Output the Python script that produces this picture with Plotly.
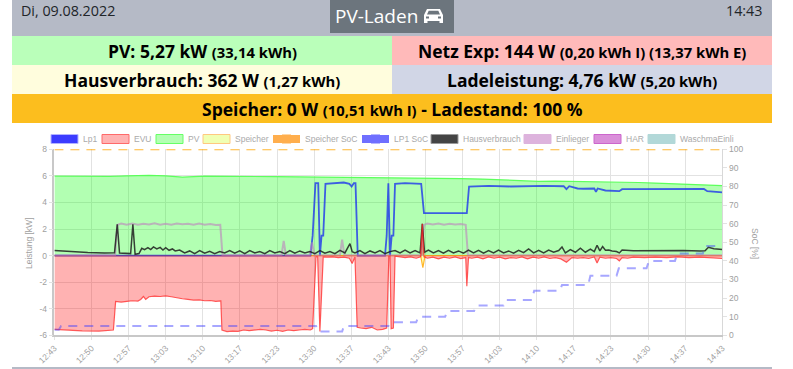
import plotly.graph_objects as go

W, H = 793, 369
TICK_LABELS = ["12:43","12:50","12:57","13:03","13:10","13:17","13:23","13:30","13:37","13:43",
               "13:50","13:57","14:03","14:10","14:17","14:23","14:30","14:37","14:43"]
TICK_MINUTES = [i * 120 / 18 for i in range(19)]

pv_t = [0,3,6,10,13,17,20,23,27,30,33,37,40,44,47,50,53,57,60,63,66,70,73,77,80,84,87,90,93,96,99,102,105,108,111,114,117,120]
pv_kw = [5.98,5.97,5.99,5.96,6.0,6.04,6.0,5.91,5.98,5.96,5.95,5.96,5.94,5.93,5.92,5.9,5.9,5.88,5.86,5.87,5.83,5.82,5.8,5.76,5.7,5.62,5.58,5.6,5.58,5.6,5.55,5.55,5.5,5.46,5.42,5.4,5.32,5.27]

evu_t = [0,2,5,8,10.6,11,12,13,14,15,15.5,16,16.4,17,18,19,20,21,22,23,24,25,26,27,28,29,29.9,30.1,31,32,33,34,35,36,37,38,39,40,41,42,43,44,45,46,46.4,47,47.3,47.7,48.3,49,50,51,52,53,53.5,54,54.4,55,56,57,58,59,59.7,60.1,60.3,60.5,60.9,61.2,62,63,64,65,65.8,66.1,66.4,67,68,69,70,71,72,73,73.9,74.1,74.4,75,76,77,78,79,80,81,82,83,84,85,86,87,88,89,90,91,92,93,94,95,96,97,97.5,98,99,100,101,101.5,102,103,104,106,108,110,112,114,116,117,118,119,120]
evu_kw = [-5.55,-5.6,-5.66,-5.68,-5.6,-3.45,-3.5,-3.45,-3.4,-3.42,-3.3,-3.08,-3.3,-3.1,-3.05,-3.08,-3.03,-3.1,-3.2,-3.25,-3.3,-3.35,-3.33,-3.4,-3.38,-3.45,-3.42,-5.6,-5.72,-5.68,-5.7,-5.6,-5.65,-5.58,-5.55,-5.6,-5.68,-5.62,-5.7,-5.6,-5.65,-5.6,-5.55,-5.6,-5.5,-0.1,-0.1,-5.72,-0.1,-0.12,-0.1,-0.15,-0.12,-0.2,-0.6,-0.1,-5.4,-5.45,-5.5,-5.4,-5.6,-5.55,-5.45,-0.05,-0.05,-5.5,-5.45,-0.05,-0.1,-0.15,-0.1,-0.2,-0.1,2.4,-0.1,-0.2,-0.12,-0.25,-0.12,-0.2,-0.1,-0.22,-0.15,-2.3,-0.15,-0.2,-0.12,-0.25,-0.1,-0.2,-0.12,-0.25,-0.15,-0.2,-0.1,-0.25,-0.12,-0.2,-0.1,-0.22,-0.15,-0.25,-0.5,-0.15,-0.2,-0.15,-0.22,-0.1,-0.55,-0.12,-0.2,-0.15,-0.22,-0.4,-0.15,-0.2,-0.12,-0.15,-0.12,-0.15,-0.1,-0.15,-0.12,-0.15,-0.15,-0.2,-0.22,-0.14]

lp1_t = [0,46,46.4,46.9,47.4,47.7,48.0,48.3,48.7,50,52,53,53.4,53.8,54.1,54.5,59.4,59.7,60.0,60.3,60.6,60.9,61.2,63,65.9,66.4,70,74.1,74.5,78,82,88,91.5,92,92.5,94,95,97,97.3,97.6,99,101.5,102,106,110,114,116.7,117.3,120]
lp1_kw = [0,0,1.5,5.45,5.45,0,1.5,1.5,5.4,5.45,5.5,5.4,5.2,5.45,5.45,0,0,1.5,5.45,0,1.5,1.5,5.4,5.45,5.4,3.2,3.22,3.2,5.2,5.25,5.2,5.25,5.22,5.0,5.22,5.05,5.03,5.05,4.8,5.05,4.9,4.85,5.0,5.0,5.03,5.0,5.02,4.85,4.76]

lp1soc_t = [0,0.8,1.2,47,47.4,51.7,52,60,60.3,65,65.4,70.2,70.6,75.4,75.8,80.7,81.1,85.8,86.2,90.8,91.2,95.9,96.3,101,101.4,106.4,106.8,111.5,111.9,116.5,116.9,120]
lp1soc_pct = [3,3,5,5,2,2,5,5,7,7,10,10,13,13,16,16,19,19,24,24,27,27,32,32,36,36,40,40,44,44,48,48]

speicher_t = [0,65.8,66.2,66.6,90,96,120]
speicher_kw = [0,0,-0.9,0,0,0,0]
speichersoc_t = [0,120]
speichersoc_pct = [100,100]

haus_t = [0,3,6,9,10.8,11.3,11.7,13.7,14.1,14.5,15.2,15.7,16.2,16.8,17.3,17.8,18.4,19,19.5,20,20.6,21.2,21.7,22.5,23.4,24.3,25.2,26.1,27,27.9,28.8,29.7,30.6,31.5,32.4,33.3,34.2,35.1,36,36.9,37.8,38.7,39.6,40.5,41.4,42.3,43.2,44.1,45,45.9,46.8,47.7,48.6,49.5,50.4,51.3,52.2,53.1,53.5,54,54.9,55.8,56.7,57.6,58.5,59.4,60.3,61.2,62.1,63,63.9,64.8,65.7,66.1,66.5,67.2,68.1,69,69.9,70.8,71.7,72.6,73.5,74.4,75.3,76.2,77.1,78,78.9,79.8,80.7,81.6,82.5,83.4,84.3,85.2,86.1,87,87.9,88.8,89.7,90.6,91.2,91.8,92.7,93.6,94.5,95.4,96.3,97,97.5,98,98.5,99,99.6,100.2,101,101.5,102,104,107,110,113,116,116.9,117.5,118.5,120]
haus_kw = [0.38,0.3,0.24,0.2,0.22,2.35,0.2,0.15,2.35,0.1,0.15,0.55,0.45,0.6,0.45,0.65,0.5,0.62,0.42,0.6,0.4,0.5,0.35,0.42,0.2,0.35,0.15,0.38,0.18,0.32,0.15,0.3,0.2,0.38,0.18,0.35,0.15,0.38,0.2,0.3,0.15,0.38,0.2,0.3,0.15,0.38,0.18,0.35,0.2,0.3,0.15,0.38,0.18,0.3,0.15,0.4,0.2,0.9,0.3,0.2,0.38,0.15,0.35,0.2,0.38,0.15,0.3,0.38,0.2,0.42,0.2,0.38,0.2,2.4,0.25,0.42,0.2,0.38,0.18,0.4,0.2,0.35,0.18,0.42,0.2,0.4,0.18,0.38,0.2,0.42,0.2,0.35,0.18,0.4,0.22,0.5,0.2,0.4,0.2,0.42,0.25,0.38,0.65,0.2,0.45,0.25,0.55,0.25,0.48,0.3,0.78,0.35,0.68,0.4,0.42,0.35,0.3,0.2,0.42,0.36,0.38,0.36,0.38,0.34,0.36,0.62,0.52,0.45,0.36]

einl_t = [0,10.9,11.3,12,13,14,15,16,17,18,19,20,21,22,23,24,25,26,27,28,29,29.8,30.2,40.8,41.2,41.6,45.9,46.3,46.7,51.3,51.7,52.1,65.9,66.4,67,68,69,70,71,72,73,73.9,74.3,120]
einl_kw = [0.02,0.02,2.3,2.42,2.33,2.42,2.32,2.4,2.34,2.43,2.33,2.4,2.32,2.42,2.35,2.4,2.33,2.42,2.32,2.38,2.3,2.32,0.02,0.02,1.1,0.02,0.02,1.0,0.02,0.02,1.2,0.02,0.02,2.3,2.42,2.34,2.42,2.33,2.4,2.34,2.38,2.32,0.02,0.02]

legend_labels = ["Lp1","EVU","PV","Speicher","Speicher SoC","LP1 SoC","Hausverbrauch","Einlieger","HAR","WaschmaEinli"]
legend_fill = ["#3c3cff","#ffb3b3","#b3ffb3","#f0ffb3","#ffae4d","#6f6fff","#444444","#ddb3dd","#da8fda","#b2d8d8"]
legend_edge = ["#b3b3ff","#ff6a6a","#66ff66","#ffc880","#ffffff","#ffffff","#999999","#ddb3dd","#cc66cc","#b2d8d8"]
legend_box_x = [51,102,156,203,273,362,431,524,594,648]

TXT = "#a0a0a0"
AX = dict(family="Liberation Sans, Arial, sans-serif", size=8.5, color=TXT)
UI = "Open Sans, Noto Sans, sans-serif"

def px(x): return x / W
def py(y): return 1 - y / H

def rect(x0, y0, x1, y1, fill, line=None, lw=0, dash=None):
    return dict(type="rect", xref="paper", yref="paper", x0=px(x0), x1=px(x1), y0=py(y1), y1=py(y0),
                fillcolor=fill, line=dict(color=line or fill, width=lw, dash=dash or "solid"), layer="above")

def text(x, y, s, size, color="#000000", anchor="center", family=UI, angle=0):
    return dict(xref="paper", yref="paper", x=px(x), y=py(y), text=s, showarrow=False, xanchor=anchor, yanchor="middle",
                font=dict(family=family, size=size, color=color), align="center", textangle=angle)

def big(a, b=""):
    return f"<b>{a}</b>" + (f' <b><span style="font-size:14.8px">{b}</span></b>' if b else "")

def poly(points, fill):
    d = "M " + " L ".join(f"{px(a):.5f},{py(b):.5f}" for a, b in points) + " Z"
    return dict(type="path", xref="paper", yref="paper", path=d, fillcolor=fill, line=dict(width=0), layer="above")

BTN = "#6c757d"
shapes = [
    rect(12, 0, 772, 36, "#b5bac6"),
    rect(12, 36, 392, 65, "#baffba"),
    rect(392, 36, 772, 65, "#ffbaba"),
    rect(12, 65, 392, 94, "#fffddd"),
    rect(392, 65, 772, 94, "#d1d6e6"),
    rect(12, 94, 772, 123, "#fcbe1e"),
    rect(12, 367, 772, 369, "#b5bac6"),
    rect(330, 0, 454, 33, BTN),
    poly([(424,15),(427,9),(440,9),(443,15),(443,23),(439.5,23),(439.5,21),(427.5,21),(427.5,23),(424,23)], "#ffffff"),
    poly([(427,14.5),(428.7,10.8),(438.3,10.8),(440,14.5)], BTN),
    rect(426, 16.5, 429, 18.5, BTN),
    rect(438, 16.5, 441, 18.5, BTN),
]
annotations = [
    text(19, 10, "Di, 09.08.2022", 14.3, "#212529", "left"),
    text(764, 10, "14:43", 14.3, "#212529", "right"),
    text(376, 16, "PV-Laden", 19, "#ffffff"),
    text(202, 51, big("PV: 5,27 kW", "(33,14 kWh)"), 17.5),
    text(582, 51, big("Netz Exp: 144 W", "(0,20 kWh I) (13,37 kWh E)"), 17.5),
    text(202, 80, big("Hausverbrauch: 362 W", "(1,27 kWh)"), 17.5),
    text(582, 80, big("Ladeleistung: 4,76 kW", "(5,20 kWh)"), 17.5),
    text(392, 109, big("Speicher: 0 W", "(10,51 kWh I)") + " <b>- Ladestand: 100 %</b>", 17.5),
    text(29, 243, "Leistung [kW]", 8.5, TXT, "center", AX["family"], -90),
    text(755, 243, "SoC [%]", 8.5, TXT, "center", AX["family"], 90),
]
for label, fill, edge, x in zip(legend_labels, legend_fill, legend_edge, legend_box_x):
    dashed = label.endswith("SoC")
    shapes.append(rect(x, 134.5, x + 27, 143.5, fill, edge, 1, "dash" if dashed else None))
    annotations.append(text(x + 30, 139, label, 8.5, "#aaaaaa", "left", AX["family"]))

fig = go.Figure()
def line(t, v, name, color, width=1.5, fill=None, fillcolor=None, dash=None, y2=False):
    fig.add_trace(go.Scatter(x=t, y=v, name=name, mode="lines", yaxis="y2" if y2 else "y",
                             line=dict(color=color, width=width, dash=dash), fill=fill, fillcolor=fillcolor,
                             showlegend=False))

line(pv_t, pv_kw, "PV", "rgba(80,255,80,0.9)", 1.2, "tozeroy", "rgba(0,255,0,0.3)")
line(speicher_t, speicher_kw, "Speicher", "rgba(255,165,0,0.8)", 1.2, "tozeroy", "rgba(255,255,0,0.3)")
line(lp1_t, lp1_kw, "Lp1", "rgba(20,40,240,0.75)", 1.8)
line(einl_t, einl_kw, "Einlieger", "rgba(190,130,190,0.6)", 2)
line(haus_t, haus_kw, "Hausverbrauch", "rgba(30,30,30,0.85)", 1.5)
line(evu_t, evu_kw, "EVU", "rgba(255,40,40,0.75)", 1.2, "tozeroy", "rgba(255,0,0,0.3)")
line(lp1soc_t, lp1soc_pct, "LP1 SoC", "rgba(60,60,255,0.45)", 2, dash="9px,7px", y2=True)
line(speichersoc_t, speichersoc_pct, "Speicher SoC", "rgba(255,165,0,0.8)", 2, dash="9px,7px", y2=True)

GRID = "#e2e2e2"
fig.update_layout(
    width=W, height=H, margin=dict(l=0, r=0, t=0, b=0, autoexpand=False), paper_bgcolor="#ffffff", plot_bgcolor="#ffffff",
    showlegend=False, shapes=shapes, annotations=annotations,
    xaxis=dict(domain=[54.4 / W, 722.3 / W], range=[0, 120], tickmode="array", tickvals=TICK_MINUTES, ticktext=TICK_LABELS,
               tickangle=-45, tickfont=AX, showgrid=True, gridcolor=GRID, gridwidth=1, zeroline=False, automargin=False,
               showline=True, linecolor="#c8c8c8", linewidth=1.5, ticks="outside", ticklen=3, tickcolor=GRID),
    yaxis=dict(domain=[1 - 335.3 / H, 1 - 149.3 / H], range=[-6, 8], tickvals=[-6,-4,-2,0,2,4,6,8], tickfont=AX,
               ticktext=["-6","-4","-2","0","2","4","6","8"], automargin=False,
               showgrid=True, gridcolor=GRID, gridwidth=1, zeroline=False, showline=True, linecolor="#c8c8c8", linewidth=1.5,
               ticks="outside", ticklen=4, tickcolor=GRID),
    yaxis2=dict(overlaying="y", side="right", anchor="x", range=[0, 100], tickvals=list(range(0, 101, 10)), tickfont=AX,
                showgrid=False, zeroline=False, showline=True, linecolor="#d8d8d8", linewidth=1, automargin=False,
                ticks="outside", ticklen=4, tickcolor=GRID),
)
fig.write_html("out.html", config=dict(displayModeBar=False),
               post_script="document.body.style.margin='0';document.documentElement.style.overflow='hidden';")
